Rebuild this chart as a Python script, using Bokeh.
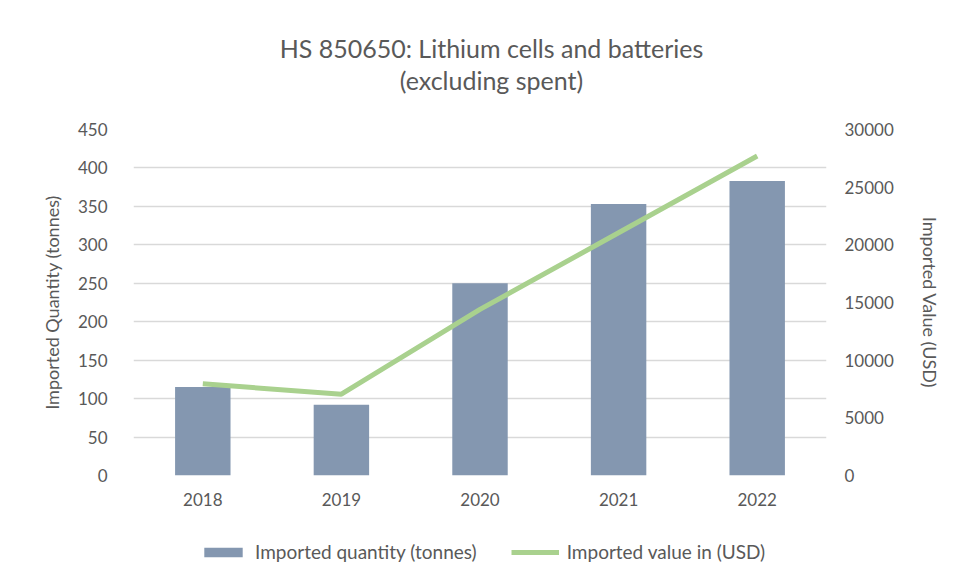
from bokeh.plotting import figure
from bokeh.layouts import column
from bokeh.models import (Range1d, LinearAxis, FixedTicker, FactorRange, Legend, LegendItem, Label,
                          ColumnDataSource)
from bokeh.embed import file_html
from bokeh.resources import INLINE

years = ["2018", "2019", "2020", "2021", "2022"]
quantity_tonnes = [115, 92, 250, 353, 383]
value_usd = [7950, 7050, 14400, 21050, 27700]
left_ticks = [0, 50, 100, 150, 200, 250, 300, 350, 400, 450]
right_ticks = [0, 5000, 10000, 15000, 20000, 25000, 30000]
title_lines = ["HS 850650: Lithium cells and batteries", "(excluding spent)"]

TXT = "#595959"
FONT = "Lato"
BAR = "#8497b0"
LINE = "#a9d18e"
W = 949

# ---- header with the two title lines (frames of the column are aligned with the main chart) ----
head = figure(width=W, height=119, output_backend="svg", toolbar_location=None,
              x_axis_type=None, y_axis_type=None, x_range=Range1d(0, 1), y_range=Range1d(0, 1),
              min_border=0)
head.outline_line_color = None
head.grid.grid_line_color = None
for txt, yy in zip(title_lines, [72, 40]):
    head.add_layout(Label(x=358, y=yy, x_units="screen", y_units="screen", text=txt,
                          text_align="center", text_baseline="middle", text_font=FONT,
                          text_font_size="25px", text_color=TXT))

# ---- main chart ----
p = figure(width=W, height=406, output_backend="svg", toolbar_location=None,
           x_range=FactorRange(*years, range_padding=0),
           y_range=Range1d(0, 450),
           min_border_left=133, min_border_right=123, min_border_top=10, min_border_bottom=50)
p.title = None
p.extra_y_ranges = {"usd": Range1d(0, 30000)}
p.outline_line_color = None
p.xgrid.grid_line_color = None
p.ygrid.grid_line_color = "#d9d9d9"
p.ygrid.grid_line_width = 1.5

src = ColumnDataSource(data=dict(year=years, qty=quantity_tonnes, usd=value_usd))
p.vbar(x="year", top="qty", width=0.4, source=src, fill_color=BAR, line_color=None)
p.line(x="year", y="usd", source=src, y_range_name="usd", line_color=LINE, line_width=5)

p.yaxis.ticker = FixedTicker(ticks=left_ticks)
p.yaxis.axis_label = "Imported Quantity (tonnes)"
raxis = LinearAxis(y_range_name="usd", ticker=FixedTicker(ticks=right_ticks),
                   axis_label="Imported Value (USD)")
p.add_layout(raxis, "right")

for ax in [p.xaxis[0], p.yaxis[0], raxis]:
    ax.axis_line_color = None
    ax.major_tick_line_color = None
    ax.minor_tick_line_color = None
    ax.major_label_text_color = TXT
    ax.major_label_text_font = FONT
    ax.major_label_text_font_size = "17px"
    ax.axis_label_text_color = TXT
    ax.axis_label_text_font = FONT
    ax.axis_label_text_font_size = "18px"
    ax.axis_label_text_font_style = "normal"
p.xaxis.major_label_standoff = 11
p.yaxis[0].major_label_standoff = 20
raxis.major_label_standoff = 12
p.yaxis[0].axis_label_standoff = 12
raxis.axis_label_standoff = 22

# ---- legend strip (its renderers lie outside its ranges; they only supply the legend glyphs) ----
leg = figure(width=W, height=49, output_backend="svg", toolbar_location=None,
             x_axis_type=None, y_axis_type=None,
             x_range=FactorRange(*years), y_range=Range1d(-2, -1), min_border=0)
leg.outline_line_color = None
leg.grid.grid_line_color = None
lb = leg.vbar(x="year", top="qty", width=0, source=src, fill_color=BAR, line_color=None)
ll = leg.line(x="year", y="usd", source=src, line_color=LINE, line_width=5)
legend = Legend(items=[LegendItem(label="Imported quantity (tonnes)", renderers=[lb]),
                       LegendItem(label="Imported value in (USD)", renderers=[ll])],
                orientation="horizontal", location=(66, 11),
                label_text_font=FONT, label_text_font_size="19px", label_text_color=TXT,
                glyph_width=48, glyph_height=12, spacing=34, label_standoff=8,
                border_line_color=None, background_fill_alpha=0, padding=4, margin=0)
leg.add_layout(legend, "center")

layout = column(head, p, leg, spacing=0)
open("out.html", "w").write(file_html(layout, INLINE))
